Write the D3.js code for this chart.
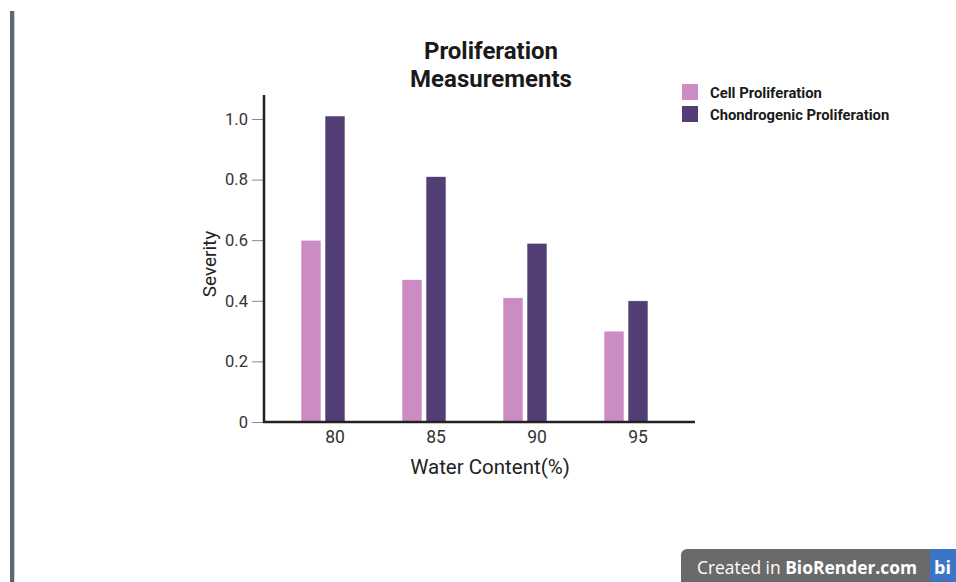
<!DOCTYPE html>
<html>
<head>
<meta charset="utf-8">
<script src="https://cdn.jsdelivr.net/npm/d3@7"></script>
<style>
  html, body { margin: 0; padding: 0; background: #ffffff; }
  svg { display: block; }
</style>
</head>
<body>
<svg id="chart" width="956" height="582"></svg>
<script>
const categories = ["80", "85", "90", "95"];
const seriesNames = ["Cell Proliferation", "Chondrogenic Proliferation"];
const cellProliferation = [0.60, 0.47, 0.41, 0.30];
const chondrogenicProliferation = [1.01, 0.81, 0.59, 0.40];
const yTicks = [0, 0.2, 0.4, 0.6, 0.8, 1.0];
const yTickLabels = ["0", "0.2", "0.4", "0.6", "0.8", "1.0"];
const colors = ["#cb8bc3", "#523d75"];

const table = categories.map((c, i) => ({
  cat: c,
  values: [cellProliferation[i], chondrogenicProliferation[i]]
}));

const svg = d3.select("#chart");

// left page border bar
svg.append("rect").attr("x", 10).attr("y", 11).attr("width", 4).attr("height", 571).attr("fill", "#5e6874");
svg.append("rect").attr("x", 14).attr("y", 11).attr("width", 1).attr("height", 571).attr("fill", "#cfd3d7");

const y = d3.scaleLinear().domain([0, 1]).range([422, 119]);
const x0 = d3.scaleBand().domain(categories).range([264, 685]).paddingInner(1 - 44 / 101).paddingOuter(37 / 101);
const x1 = d3.scaleBand().domain(seriesNames).range([0, x0.bandwidth()]).paddingInner(1 / 6);

// bars
const groups = svg.append("g").selectAll("g").data(table).join("g")
  .attr("transform", d => `translate(${x0(d.cat)},0)`);
groups.selectAll("rect").data(d => d.values.map((v, k) => ({ v, k })))
  .join("rect")
  .attr("x", d => x1(seriesNames[d.k]))
  .attr("y", d => y(d.v))
  .attr("width", x1.bandwidth())
  .attr("height", d => y(0) - y(d.v))
  .attr("fill", d => colors[d.k])
  .attr("stroke", "#ffffff")
  .attr("stroke-width", 0.6);

// y axis
const yAxis = d3.axisLeft(y).tickValues(yTicks).tickFormat((d, i) => yTickLabels[i]).tickSize(12).tickPadding(4);
const gy = svg.append("g").attr("transform", "translate(264,0)").call(yAxis);
gy.select(".domain").remove();
gy.selectAll(".tick line").attr("stroke", "#888").attr("stroke-width", 1);
gy.selectAll(".tick text").attr("font-family", "Roboto, sans-serif").attr("font-size", 16.5).attr("fill", "#333");
svg.append("line").attr("x1", 264).attr("x2", 264).attr("y1", 95).attr("y2", 423)
  .attr("stroke", "#222").attr("stroke-width", 2.5);

// x axis
const xAxis = d3.axisBottom(x0).tickSize(0).tickPadding(9);
const gx = svg.append("g").attr("transform", "translate(0,422)").call(xAxis);
gx.select(".domain").remove();
gx.selectAll(".tick").attr("transform", d => `translate(${x0(d) + x1(seriesNames[1]) + x1.bandwidth() / 2},0)`);
gx.selectAll(".tick text").attr("font-family", "Roboto, sans-serif").attr("font-size", 17.5).attr("fill", "#333").attr("dy", "0.71em");
svg.append("line").attr("x1", 263).attr("x2", 695).attr("y1", 422).attr("y2", 422)
  .attr("stroke", "#222").attr("stroke-width", 2.5);

// axis titles
svg.append("text").attr("x", 490).attr("y", 474).attr("text-anchor", "middle")
  .attr("font-family", "Roboto, sans-serif").attr("font-size", 20.5).attr("fill", "#222").text("Water Content(%)");
svg.append("text").attr("transform", "translate(216,264) rotate(-90)").attr("text-anchor", "middle")
  .attr("font-family", "Roboto, sans-serif").attr("font-size", 19).attr("fill", "#222").text("Severity");

// title
const title = svg.append("text").attr("text-anchor", "middle")
  .attr("font-family", "Roboto, sans-serif").attr("font-weight", "bold").attr("font-size", 24).attr("fill", "#1a1a1a");
title.append("tspan").attr("x", 491).attr("y", 59).text("Proliferation");
title.append("tspan").attr("x", 491).attr("y", 87).text("Measurements");

// legend
const legend = svg.append("g").selectAll("g").data(seriesNames).join("g")
  .attr("transform", (d, i) => `translate(682,${84 + i * 22})`);
legend.append("rect").attr("width", 16).attr("height", 16).attr("fill", (d, i) => colors[i]);
legend.append("text").attr("x", 28).attr("y", 14)
  .attr("font-family", "Roboto, sans-serif").attr("font-weight", "bold").attr("font-size", 14.8).attr("fill", "#1a1a1a")
  .text(d => d);

// BioRender badge
svg.append("rect").attr("x", 681).attr("y", 549).attr("width", 260).attr("height", 45).attr("rx", 6).attr("fill", "#6a6a6a");
svg.append("rect").attr("x", 930).attr("y", 549).attr("width", 26).attr("height", 33).attr("fill", "#3e74c6");
const badge = svg.append("text").attr("x", 697).attr("y", 574)
  .attr("font-family", "'Open Sans', sans-serif").attr("font-size", 17.4).attr("fill", "#ffffff");
badge.append("tspan").text("Created in ");
badge.append("tspan").attr("font-weight", "bold").text("BioRender.com");
svg.append("text").attr("x", 934).attr("y", 574)
  .attr("font-family", "'Open Sans', sans-serif").attr("font-weight", "bold").attr("font-size", 18).attr("fill", "#ffffff").text("bi");
</script>
</body>
</html>
